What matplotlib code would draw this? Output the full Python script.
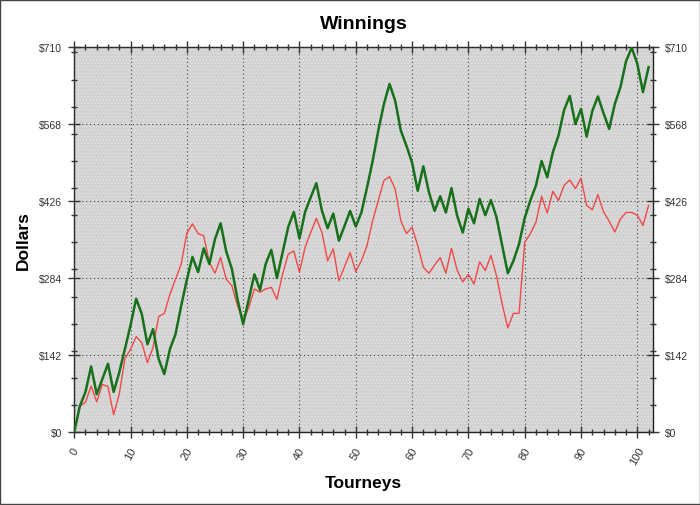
import numpy as np
import matplotlib
matplotlib.use("Agg")
import matplotlib.pyplot as plt
from matplotlib.patches import Rectangle
from matplotlib.ticker import MultipleLocator, FixedLocator

plt.rcParams['font.family'] = ['Liberation Sans', 'DejaVu Sans']

# tourney number 0..102
tourneys = list(range(103))

# dark green line (thick)
winnings_green = [
    0, 48, 74, 121, 70, 98, 126, 74, 110, 153,
    197, 246, 218, 162, 190, 135, 107, 153, 181, 233,
    281, 323, 295, 339, 310, 356, 385, 333, 301, 245,
    199, 245, 291, 262, 310, 336, 284, 331, 378, 406,
    357, 406, 433, 459, 408, 376, 403, 353, 380, 408,
    379, 405, 451, 500, 556, 605, 642, 611, 556, 528,
    497, 445, 490, 442, 408, 435, 405, 450, 399, 368,
    412, 385, 430, 400, 428, 396, 344, 293, 316, 347,
    395, 427, 455, 500, 470, 516, 547, 594, 620, 568,
    596, 545, 592, 619, 588, 559, 605, 636, 684, 709,
    679, 627, 673]

# red line (thin)
winnings_red = [
    0, 48, 55, 85, 56, 88, 84, 32, 70, 135,
    153, 176, 165, 128, 156, 213, 219, 254, 282, 310,
    367, 384, 366, 362, 313, 293, 322, 282, 270, 233,
    205, 230, 264, 258, 264, 267, 245, 291, 328, 334,
    295, 341, 368, 394, 368, 316, 338, 279, 305, 331,
    296, 316, 344, 390, 427, 464, 471, 448, 390, 366,
    378, 344, 304, 293, 308, 322, 293, 339, 299, 277,
    291, 273, 314, 298, 326, 288, 236, 192, 219, 219,
    350, 366, 387, 435, 404, 444, 427, 455, 465, 449,
    468, 418, 410, 438, 406, 389, 369, 393, 405, 405,
    400, 381, 418]

y_ticks = [0, 142, 284, 426, 568, 710]
y_labels = ['$0', '$142', '$284', '$426', '$568', '$710']

fig = plt.figure(figsize=(7, 5.06), dpi=100)
ax = fig.add_axes([0.106, 0.144, 0.827, 0.761])

# textured grey plot background
ax.set_facecolor('#d2d2d2')
plt.rcParams['hatch.linewidth'] = 0.6
bg = Rectangle((0, 0), 1, 1, transform=ax.transAxes, facecolor='none',
               edgecolor='#e4e4e4', hatch='.....', lw=0, zorder=0)
ax.add_patch(bg)

ax.plot(tourneys, winnings_red, color='#f24848', lw=1.0, zorder=3)
ax.plot(tourneys, winnings_green, color='#17701a', lw=1.8, zorder=4)

ax.set_xlim(0, 102.8)
ax.set_ylim(0, 710)

ax.xaxis.set_major_locator(MultipleLocator(10))
ax.xaxis.set_minor_locator(MultipleLocator(2))
ax.yaxis.set_major_locator(FixedLocator(y_ticks))
ax.yaxis.set_minor_locator(MultipleLocator(50))
ax.set_yticklabels(y_labels)

ax.grid(which='major', color='#444444', linestyle=(0, (1, 2.5)), lw=0.8)
ax.set_axisbelow(False)

ax.tick_params(which='both', direction='inout', top=True, right=True,
               labelright=True, colors='#333333', labelsize=7.5)
ax.tick_params(which='major', length=9, width=1)
ax.tick_params(which='minor', length=5, width=1)
ax.tick_params(axis='y', pad=4)
ax.tick_params(axis='x', pad=5, labelsize=8)
plt.setp(ax.get_xticklabels(), rotation=60, ha='center', va='top')

for s in ax.spines.values():
    s.set_color('#222222')
    s.set_linewidth(1)

ax.set_title('Winnings', fontsize=14, fontweight='bold', pad=14)
ax.set_xlabel('Tourneys', fontsize=12.5, fontweight='bold', labelpad=6)
ax.set_ylabel('Dollars', fontsize=12.5, fontweight='bold', labelpad=6)

# thin frame around the whole picture
fig.patches.append(Rectangle((0.0007, 0.001), 0.9986, 0.998, transform=fig.transFigure,
                             fill=False, edgecolor='#444444', lw=1.0))

fig.savefig('out.png', dpi=100)
